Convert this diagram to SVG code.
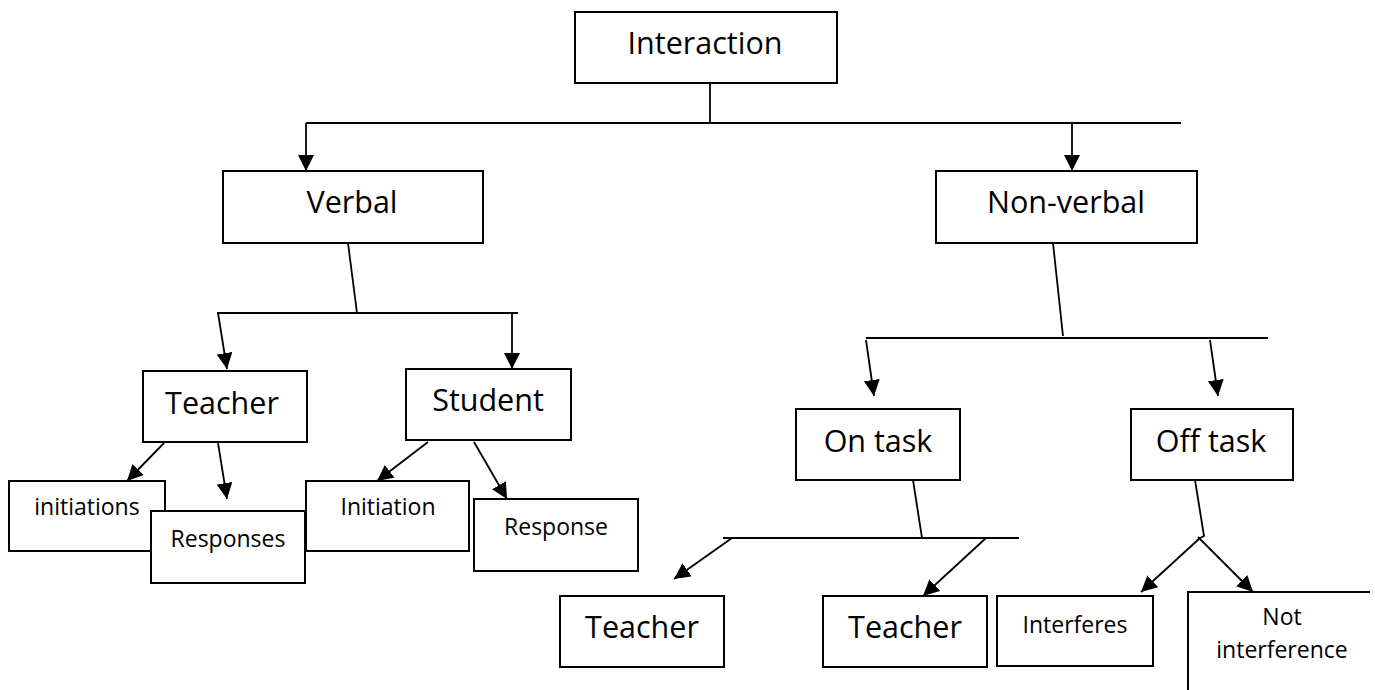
<svg xmlns="http://www.w3.org/2000/svg" width="1375" height="690" viewBox="0 0 1375 690">
<style>
.box{fill:#fff;stroke:#000;stroke-width:2}
.t{font-family:"Open Sans","Liberation Sans",sans-serif;font-size:30.5px;fill:#000;text-anchor:middle}
.s{font-family:"Open Sans","Liberation Sans",sans-serif;font-size:23px;fill:#000;text-anchor:middle}
.c{fill:none;stroke:#000;stroke-width:1.8}
.a{marker-end:url(#arr)}
</style>
<defs>
<marker id="arr" markerUnits="userSpaceOnUse" markerWidth="17" markerHeight="16" refX="16" refY="8" orient="auto">
<path d="M0,0 L16,8 L0,16 z" fill="#000"/>
</marker>
</defs>
<rect width="1375" height="690" fill="#fff"/>
<g id="connectors">
<path class="c" d="M710,83 V123"/>
<path class="c" d="M306,123 H1181"/>
<path class="c a" d="M306,123 V171"/>
<path class="c a" d="M1072,123 V171"/>
<path class="c" d="M348,243 L357,313"/>
<path class="c" d="M217,313 H518"/>
<path class="c a" d="M218,313 L227,369"/>
<path class="c a" d="M512,313 V369"/>
<path class="c a" d="M164,443 L127,481"/>
<path class="c a" d="M218,443 L227,499"/>
<path class="c a" d="M428,442 L377,481"/>
<path class="c a" d="M474,442 L507,499"/>
<path class="c" d="M1053,243 L1063,336"/>
<path class="c" d="M866,338 H1268"/>
<path class="c a" d="M866,340 L874,396"/>
<path class="c a" d="M1210,340 L1218,396"/>
<path class="c" d="M913,480 L922,538"/>
<path class="c" d="M723,538 H1019"/>
<path class="c a" d="M732,538 L674,579"/>
<path class="c a" d="M986,538 L923,596"/>
<path class="c" d="M1195,480 L1204,536 L1198,539"/>
<path class="c a" d="M1200,538 L1141,592"/>
<path class="c a" d="M1198,537 L1253,592"/>
</g>
<g id="interaction"><rect class="box" x="575" y="12" width="262" height="71"/><text class="t" x="705" y="54">Interaction</text></g>
<g id="verbal"><rect class="box" x="223" y="171" width="260" height="72"/><text class="t" x="352" y="213">Verbal</text></g>
<g id="nonverbal"><rect class="box" x="936" y="171" width="261" height="72"/><text class="t" x="1066" y="213">Non-verbal</text></g>
<g id="teacher1"><rect class="box" x="143" y="371" width="164" height="71"/><text class="t" x="222" y="414">Teacher</text></g>
<g id="student"><rect class="box" x="406" y="369" width="165" height="71"/><text class="t" x="488" y="411">Student</text></g>
<g id="initiations"><rect class="box" x="9" y="481" width="156" height="70"/><text class="s" x="87" y="515">initiations</text></g>
<g id="responses"><rect class="box" x="151" y="511" width="154" height="72"/><text class="s" x="228" y="547">Responses</text></g>
<g id="initiation"><rect class="box" x="306" y="481" width="163" height="70"/><text class="s" x="388" y="515">Initiation</text></g>
<g id="response"><rect class="box" x="474" y="499" width="164" height="72"/><text class="s" x="556" y="535">Response</text></g>
<g id="ontask"><rect class="box" x="796" y="409" width="164" height="71"/><text class="t" x="878" y="452">On task</text></g>
<g id="offtask"><rect class="box" x="1131" y="409" width="162" height="71"/><text class="t" x="1211" y="452">Off task</text></g>
<g id="teacher2"><rect class="box" x="560" y="596" width="164" height="71"/><text class="t" x="642" y="638">Teacher</text></g>
<g id="teacher3"><rect class="box" x="823" y="596" width="164" height="71"/><text class="t" x="905" y="638">Teacher</text></g>
<g id="interferes"><rect class="box" x="997" y="596" width="156" height="70"/><text class="s" x="1075" y="633">Interferes</text></g>
<g id="notinterference"><path class="box" fill="none" d="M1370,592 H1188 V690"/><text class="s" x="1282" y="625">Not</text><text class="s" x="1282" y="658">interference</text></g>
</svg>
